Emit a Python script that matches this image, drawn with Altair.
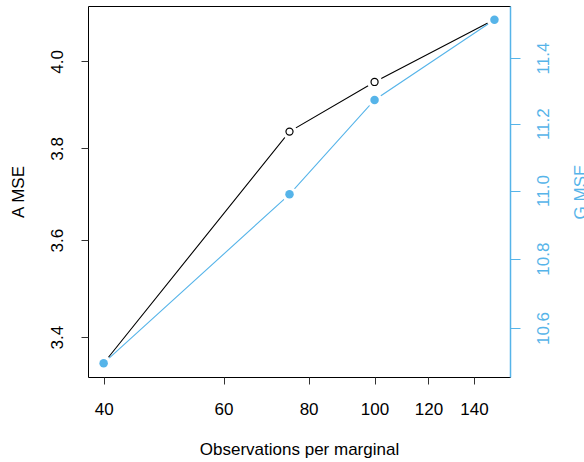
import altair as alt
import pandas as pd

obs = [40, 75, 100, 150]
a_mse = [3.348, 3.838, 3.952, 4.100]
g_mse = [10.50, 10.989, 11.272, 11.518]

x_ticks = [40, 60, 80, 100, 120, 140]
a_ticks = [3.4, 3.6, 3.8, 4.0]
g_ticks = [10.6, 10.8, 11.0, 11.2, 11.4]

BLUE = "#56B4E9"
FONT = "Liberation Sans"
FS = 17

df = pd.DataFrame({"obs": obs, "a_mse": a_mse, "g_mse": g_mse})

W, H = 422, 371

x_enc = alt.X(
    "obs:Q",
    scale=alt.Scale(type="log", domain=[37.94, 158.1], nice=False, zero=False),
    axis=alt.Axis(
        values=x_ticks, format="d", title="Observations per marginal",
        domain=False, grid=False, tickSize=7, tickColor="#333333",
        labelFontSize=FS, labelFont=FONT, labelColor="black",
        labelPadding=25, labelBaseline="middle", labelAlign="center",
        labelFlush=False, labelOverlap=False,
        titleFontSize=FS, titleFont=FONT, titleFontWeight="normal", titleColor="black",
        titleX=W / 2, titleY=72, titleBaseline="middle", titleAlign="center",
    ),
)

a_enc = alt.Y(
    "a_mse:Q",
    scale=alt.Scale(type="log", domain=[3.321, 4.133], nice=False, zero=False),
    axis=alt.Axis(
        orient="left", values=a_ticks, format=".1f", title="A MSE",
        domain=False, grid=False, tickSize=7, tickColor="#333333",
        labelFontSize=FS, labelFont=FONT, labelColor="black",
        labelAngle=270, labelAlign="center", labelBaseline="middle",
        labelPadding=24, labelFlush=False, labelOverlap=False,
        titleFontSize=FS, titleFont=FONT, titleFontWeight="normal", titleColor="black",
        titleAngle=270, titleX=-70, titleY=H / 2, titleAlign="center", titleBaseline="middle",
    ),
)

g_enc = alt.Y(
    "g_mse:Q",
    scale=alt.Scale(type="log", domain=[10.461, 11.561], nice=False, zero=False),
    axis=alt.Axis(
        orient="right", values=g_ticks, format=".1f", title="G MSE",
        domain=True, domainColor=BLUE, domainWidth=1.5, grid=False,
        tickSize=10, tickColor=BLUE,
        labelFontSize=FS, labelFont=FONT, labelColor=BLUE,
        labelAngle=270, labelAlign="center", labelBaseline="middle",
        labelPadding=23, labelFlush=False, labelOverlap=False,
        titleFontSize=FS, titleFont=FONT, titleFontWeight="normal", titleColor=BLUE,
        titleAngle=270, titleX=70, titleY=H / 2, titleAlign="center", titleBaseline="middle",
    ),
)

base = alt.Chart(df)

a_line = base.mark_line(color="black", strokeWidth=1.1).encode(x=x_enc, y=a_enc)
a_gap = base.mark_point(filled=True, color="white", opacity=1, size=230).encode(x=x_enc, y=a_enc)
a_pts = base.mark_point(filled=False, color="black", fill="white", fillOpacity=1,
                        strokeWidth=1.2, opacity=1, size=50).encode(x=x_enc, y=a_enc)
left = alt.layer(a_line, a_gap, a_pts)

g_line = base.mark_line(color=BLUE, strokeWidth=1.1).encode(x=x_enc, y=g_enc)
g_gap = base.mark_point(filled=True, color="white", opacity=1, size=230).encode(x=x_enc, y=g_enc)
g_pts = base.mark_point(filled=True, color=BLUE, opacity=1, size=72).encode(x=x_enc, y=g_enc)
right = alt.layer(g_line, g_gap, g_pts)

chart = (
    alt.layer(left, right)
    .resolve_scale(y="independent")
    .properties(
        width=W, height=H,
        autosize=alt.AutoSizeParams(type="none"),
        padding={"left": 88, "top": 6, "right": 74, "bottom": 85},
        background="white",
    )
    .configure_view(stroke="black", strokeWidth=1)
)

chart.save("out.html", embed_options={"renderer": "svg", "actions": False})
